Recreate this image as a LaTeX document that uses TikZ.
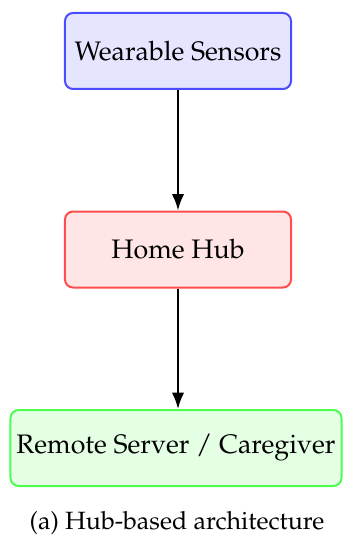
\documentclass[tikz,border=0pt]{standalone}
\usepackage[T1]{fontenc}
\usepackage{mathpazo}
\usetikzlibrary{arrows.meta}
\begin{document}
\begin{tikzpicture}[x=0.4pt,y=-0.4pt,
  box/.style={draw, rounded corners=3.2pt, line width=0.8pt, minimum height=30.4pt, inner sep=2pt, font=\fontsize{10.7}{12}\selectfont},
  link/.style={-{Latex[length=6.6pt,width=5pt]}, line width=0.8pt}]
\useasboundingbox (0,0) rectangle (342,539);
\node[box, draw=blue!70, fill=blue!10, minimum width=90.4pt] (ws) at (178,51) {Wearable Sensors};
\node[box, draw=red!70, fill=red!10, minimum width=90.4pt] (hh) at (178,249.5) {Home Hub};
\node[box, draw=green!70, fill=green!10, minimum width=132.4pt] (rs) at (176,448) {Remote Server / Caregiver};
\node[font=\fontsize{10}{12}\selectfont, anchor=base] (cap) at (177,529) {(a) Hub-based architecture};
\draw[link] (ws.south) -- (hh.north);
\draw[link] (hh.south) -- (hh.south |- rs.north);
\end{tikzpicture}
\end{document}
